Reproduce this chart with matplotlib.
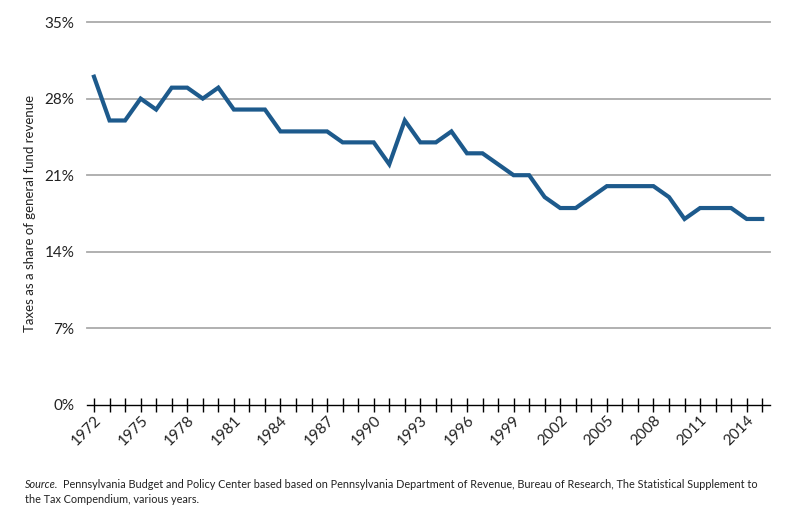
import matplotlib
matplotlib.use("Agg")
import matplotlib.pyplot as plt
from matplotlib.ticker import FixedLocator, FuncFormatter

years = list(range(1972, 2016))
share = [30, 26, 26, 28, 27, 29, 29, 28, 29, 27,
         27, 27, 25, 25, 25, 25, 24, 24, 24, 22,
         26, 24, 24, 25, 23, 23, 22, 21, 21, 19,
         18, 18, 19, 20, 20, 20, 20, 19, 17, 18,
         18, 18, 17, 17]
y_ticks = [0, 7, 14, 21, 28, 35]
x_label_years = list(range(1972, 2015, 3))

FONT = ['Lato', 'DejaVu Sans']
plt.rcParams['font.family'] = FONT

W, H = 792, 516
fig = plt.figure(figsize=(W / 100, H / 100), dpi=100)
ax = fig.add_axes([87 / W, 1 - 405 / H, (770 - 87) / W, (405 - 22) / H])

ax.plot(years, share, color='#1d5a8c', linewidth=3.0, solid_joinstyle='miter', zorder=3)

ax.set_xlim(1971.55, 2015.5)
ax.set_ylim(0, 35)

for v in y_ticks[1:]:
    ax.axhline(v, color='#aaaaaa', linewidth=1.3, zorder=1, clip_on=False)

for s in ['top', 'right', 'left']:
    ax.spines[s].set_visible(False)
ax.spines['bottom'].set_color('black')
ax.spines['bottom'].set_linewidth(1.0)

ax.set_yticks(y_ticks)
ax.yaxis.set_major_formatter(FuncFormatter(lambda v, p: f"{int(v)}%"))
ax.tick_params(axis='y', length=0, pad=9, labelsize=11, labelcolor='#222222')

ax.xaxis.set_major_locator(FixedLocator(years))
ax.set_xticklabels([str(y) if y in x_label_years else '' for y in years])
ax.tick_params(axis='x', direction='inout', length=10, width=1.0, labelsize=11,
               labelcolor='#222222', pad=1)
for lbl in ax.get_xticklabels():
    lbl.set_rotation(45)
    lbl.set_ha('right')
    lbl.set_va('top')
    lbl.set_rotation_mode('anchor')

ax.set_ylabel('Taxes as a share of general fund revenue', fontsize=9.5, color='#222222')
ax.yaxis.set_label_coords(-51 / (770 - 87), 0.5)

src_main = ('Pennsylvania Budget and Policy Center based based on Pennsylvania Department of '
            'Revenue, Bureau of Research, The Statistical Supplement to')
src_line2 = 'the Tax Compendium, various years.'

fs = 9.0
t1 = fig.text(25 / W, 1 - 488 / H, 'Source.', fontsize=fs, style='italic', color='#222222', va='baseline')
t2 = fig.text(0, 1 - 488 / H, src_main, fontsize=fs, color='#222222', va='baseline')
t3 = fig.text(25 / W, 1 - 503 / H, src_line2, fontsize=fs, color='#222222', va='baseline')
fig.canvas.draw()
r = fig.canvas.get_renderer()
total = t1.get_window_extent(r).width + 6 + t2.get_window_extent(r).width
fs2 = fs * (757 - 25) / total
for t in (t1, t2, t3):
    t.set_fontsize(fs2)
fig.canvas.draw()
bb = t1.get_window_extent(r)
t2.set_x((bb.x1 + 5) / W)

fig.savefig('out.png', dpi=100)
